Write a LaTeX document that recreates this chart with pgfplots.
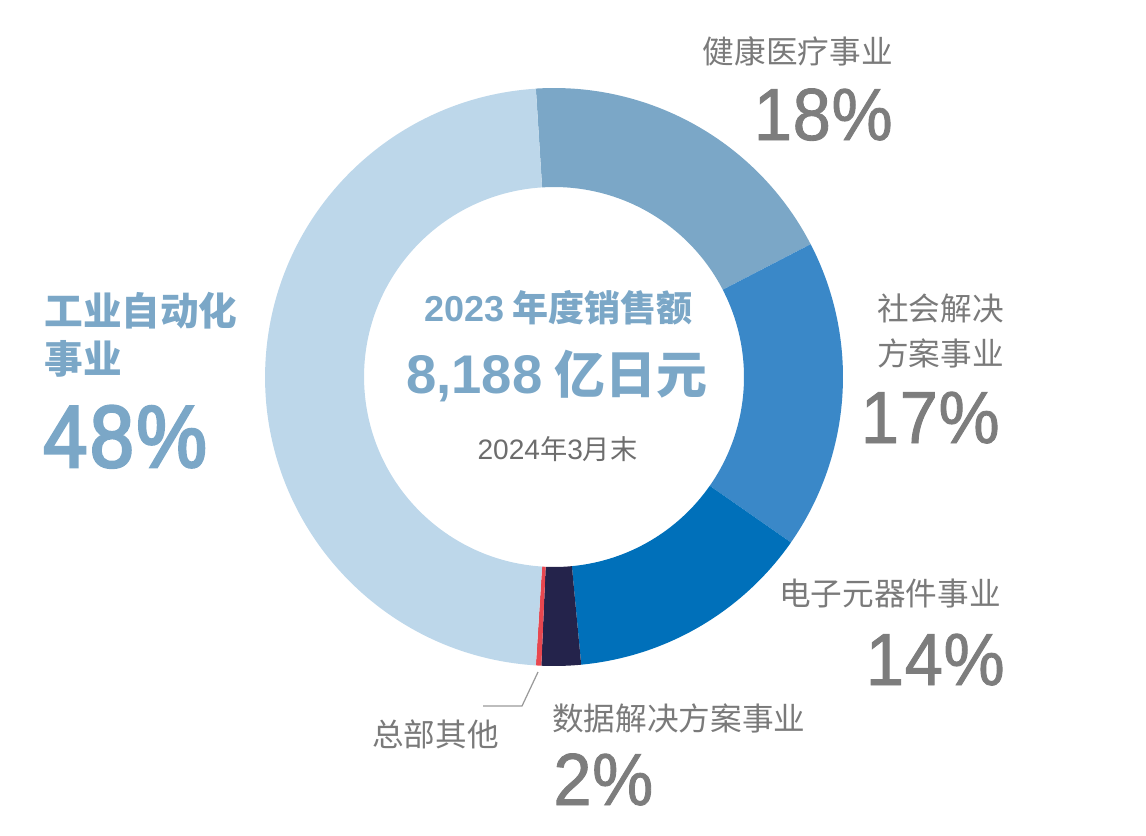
\documentclass[border=0pt]{standalone}
\usepackage{pgfplots}
\pgfplotsset{compat=1.18}
\usepackage{pgfplotstable}
\usepackage{fontspec}
\setmainfont{Liberation Sans}
\newfontfamily\cjk{Noto Sans CJK SC}
\newfontfamily\lat{Liberation Sans}
\newfontfamily\pct[FakeStretch=0.93,FakeBold=1.2,LetterSpace=1]{Liberation Sans}
\newfontfamily\pctb[FakeStretch=0.9,FakeBold=3,LetterSpace=3]{Liberation Sans}

\definecolor{cIAB}{HTML}{BDD7EA}
\definecolor{cHCB}{HTML}{7BA7C7}
\definecolor{cSSB}{HTML}{3A88C8}
\definecolor{cDMB}{HTML}{0070BA}
\definecolor{cDSB}{HTML}{24234B}
\definecolor{cHQ}{HTML}{E8474F}
\definecolor{cLab}{HTML}{7A7A7A}
\definecolor{cPct}{HTML}{7D7D7D}
\definecolor{cBlue}{HTML}{7BA7C7}
\definecolor{cDate}{HTML}{6D6D6D}
\definecolor{cLine}{HTML}{9A9A9A}

% share of 2023 sales (%), clockwise from the top
\pgfplotstableread{
seg value col
HCB 18.4 cHCB
SSB 17.3 cSSB
DMB 13.8 cDMB
DSB 2.2 cDSB
HQ 0.3 cHQ
IAB 48.0 cIAB
}\donutdata

\newcommand{\fs}[1]{\fontsize{#1}{#1}\selectfont}

\begin{document}
\begin{tikzpicture}
\begin{axis}[x=0.02cm,y=0.02cm,xmin=0,xmax=1146,ymin=0,ymax=835,
  y dir=reverse,hide axis,clip=false,scale only axis]
\path (axis cs:0,0) rectangle (axis cs:1146,835);
\gdef\startang{93.6}
\pgfplotsforeachungrouped \i in {0,...,5}{%
  \pgfplotstablegetelem{\i}{value}\of\donutdata \let\segval\pgfplotsretval
  \pgfplotstablegetelem{\i}{col}\of\donutdata \let\segcol\pgfplotsretval
  \pgfmathsetmacro\endang{\startang-3.6*\segval}%
  \pgfmathsetmacro\xo{554+289*cos(\startang)}%
  \pgfmathsetmacro\yo{377-289*sin(\startang)}%
  \pgfmathsetmacro\xin{554+190*cos(\endang)}%
  \pgfmathsetmacro\yin{377-190*sin(\endang)}%
  \edef\temp{\noexpand\fill[\segcol] (axis cs:\xo,\yo) arc[start angle=\startang, end angle=\endang, radius=5.78cm] -- (axis cs:\xin,\yin) arc[start angle=\endang, end angle=\startang, radius=3.8cm] -- cycle;}%
  \temp
  \xdef\startang{\endang}%
}
% leader line for HQ
\draw[cLine, line width=0.7pt] (axis cs:538,672) -- (axis cs:522,706) -- (axis cs:483,706);

% labels
\node[anchor=base east, inner sep=0, text=cLab, font=\cjk\fs{18}] at (axis cs:893,63) {健康医疗事业};
\node[anchor=base east, inner sep=0, text=cPct, font=\pct\fs{42}] at (axis cs:893,140) {18\%};

\node[anchor=base east, inner sep=0, text=cLab, font=\cjk\fs{18}] at (axis cs:1004,320) {社会解决};
\node[anchor=base east, inner sep=0, text=cLab, font=\cjk\fs{18}] at (axis cs:1004,365) {方案事业};
\node[anchor=base east, inner sep=0, text=cPct, font=\pct\fs{42}] at (axis cs:1000,443) {17\%};

\node[anchor=base east, inner sep=0, text=cLab, font=\cjk\fs{18}] at (axis cs:1001,605) {电子元器件事业};
\node[anchor=base east, inner sep=0, text=cPct, font=\pct\fs{42}] at (axis cs:1005,685) {14\%};

\node[anchor=base west, inner sep=0, text=cLab, font=\cjk\fs{18}] at (axis cs:552,730) {数据解决方案事业};
\node[anchor=base west, inner sep=0, text=cPct, font=\pct\fs{42}] at (axis cs:553,805) {2\%};

\node[anchor=base west, inner sep=0, text=cLab, font=\cjk\fs{18}] at (axis cs:372,746) {总部其他};

\node[anchor=base west, inner sep=0, text=cBlue, font=\cjk\bfseries\fs{22}] at (axis cs:44,325) {工业自动化};
\node[anchor=base west, inner sep=0, text=cBlue, font=\cjk\bfseries\fs{22}] at (axis cs:44,373) {事业};
\node[anchor=base west, inner sep=0, text=cBlue, font=\pctb\fs{50}] at (axis cs:43,467) {48\%};

% centre
\node[anchor=base, inner sep=0, text=cBlue] at (axis cs:558.5,321) {{\lat\bfseries\fs{20.5}2023}\hspace{5pt}{\cjk\bfseries\fs{20.5}年度销售额}};
\node[anchor=base, inner sep=0, text=cBlue] at (axis cs:557,393) {{\lat\bfseries\fs{31}8,188}\hspace{7pt}{\cjk\bfseries\fs{29}亿日元}};
\node[anchor=base, inner sep=0, text=cDate] at (axis cs:557.5,459) {{\lat\fs{16}2024}{\cjk\fs{15.5}年}{\lat\fs{16}3}{\cjk\fs{15.5}月末}};
\end{axis}
\end{tikzpicture}
\end{document}
